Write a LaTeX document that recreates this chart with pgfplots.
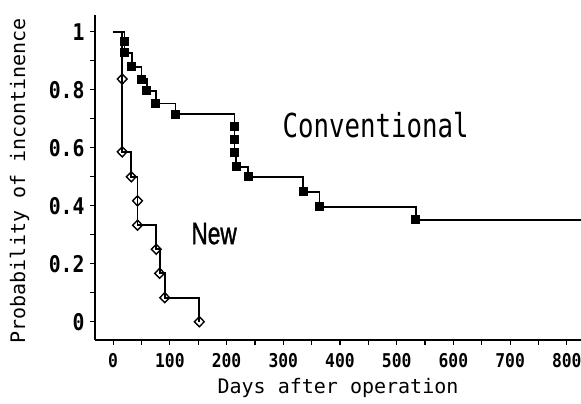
\documentclass[border=0pt]{standalone}
\usepackage{pgfplots}
\pgfplotsset{compat=1.18}
\usepackage{fontspec}
\newfontfamily\labfont{DejaVu Sans Mono}
\newfontfamily\tickfont[FakeStretch=0.86]{DejaVu Sans Mono}
\newfontfamily\convfont[FakeStretch=0.78]{DejaVu Sans Mono}
\newfontfamily\newlabfont[FakeStretch=0.73,FakeBold=1.2]{Liberation Sans}

% Kaplan-Meier curves (days, probability)
\pgfplotstableread{
day  p
0    1
20   0.966
20   0.928
33   0.879
50   0.837
59   0.797
75   0.753
110  0.716
214  0.672
214  0.630
214  0.583
217  0.534
238  0.500
335  0.448
364  0.397
534  0.351
830  0.351
}\conventional

\pgfplotstableread{
day  p
0    1
16   0.837
16   0.586
32   0.500
43   0.417
43   0.333
76   0.250
82   0.167
91   0.083
152  0.000
}\newmethod

\begin{document}
\begin{tikzpicture}
\begin{axis}[
  at={(0,0)},anchor=south west,
  scale only axis,
  width=486bp,height=325bp,
  xmin=-32,xmax=825,
  ymin=-0.063,ymax=1.058,
  axis x line*=bottom,axis y line*=left,
  axis line style={line width=1.6bp},
  tick align=outside,
  major tick length=5bp,minor tick length=5bp,
  tick style={line width=1.2bp,black},
  xtick={0,100,...,800},minor x tick num=1,
  ytick={0,0.2,0.4,0.6,0.8,1},minor y tick num=1,
  /pgf/number format/assume math mode=true,
  x tick label style={font=\tickfont\bfseries\fontsize{19bp}{19bp}\selectfont,yshift=-5bp},
  y tick label style={font=\tickfont\bfseries\fontsize{23bp}{23bp}\selectfont,xshift=-2bp},
  xlabel={Days after operation},
  ylabel={Probability of incontinence},
  label style={font=\labfont\fontsize{20bp}{20bp}\selectfont},
  xlabel style={yshift=-4bp},
  ylabel style={at={(axis description cs:-0.155,0.49)},anchor=center},
]
\addplot[const plot,line width=1.8bp,black,mark=square*,mark size=3.6bp,
  mark indices={2,3,...,16}] table[x=day,y=p] {\conventional};
\addplot[const plot,line width=1.8bp,black,mark=diamond,
  mark size=5bp,mark indices={2,3,...,10},
  mark options={fill=white,xscale=1.3,line width=1.4bp}] table[x=day,y=p] {\newmethod};
\node[font=\convfont\fontsize{33bp}{33bp}\selectfont] at (axis cs:463,0.678) {Conventional};
\node[font=\newlabfont\fontsize{31bp}{31bp}\selectfont] at (axis cs:178,0.304) {New};
\end{axis}
\pgfresetboundingbox
\path[use as bounding box] (-95bp,-64bp) rectangle (486bp,340bp);
\end{tikzpicture}
\end{document}
